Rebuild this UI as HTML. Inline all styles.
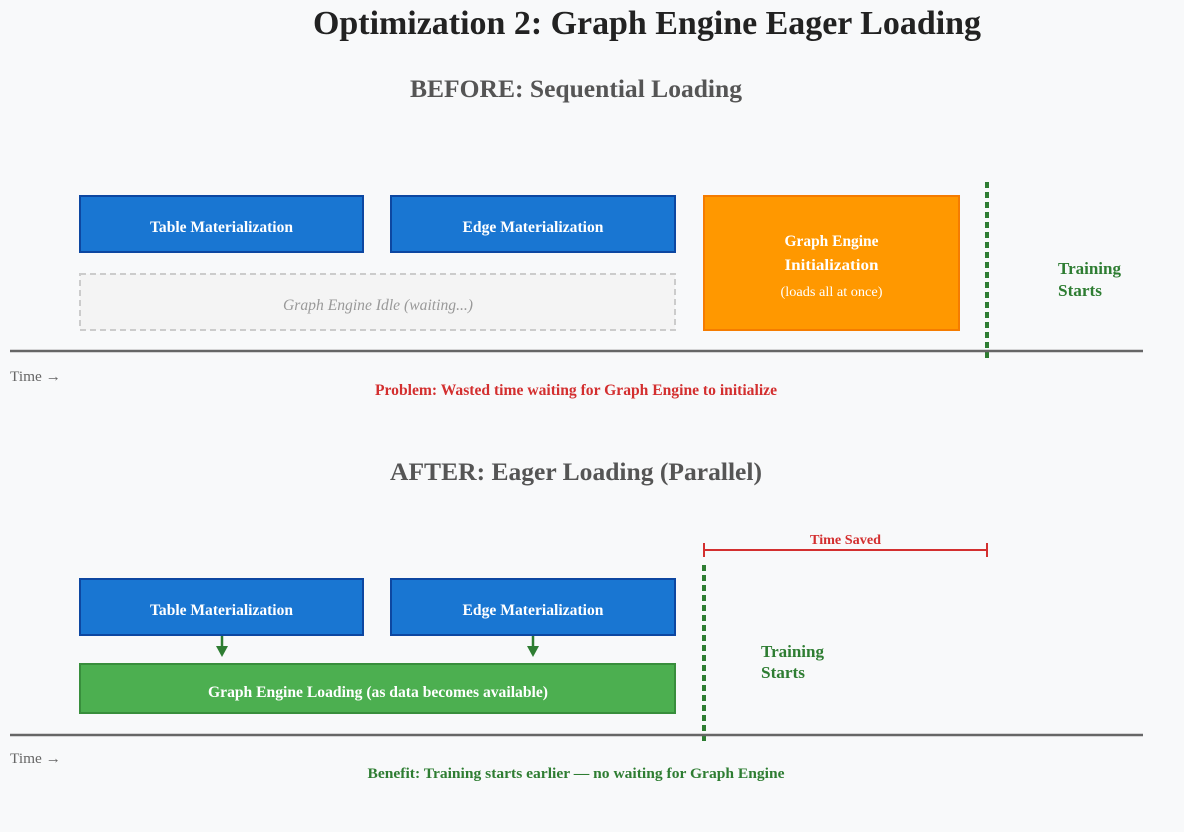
<!DOCTYPE html>
<html><head><style>
html,body{margin:0;padding:0;background:#f8f9fa;}
svg{display:block;font-family:"Liberation Serif",serif;}
</style></head><body>
<svg width="1184" height="832" viewBox="0 0 1184 832" xmlns="http://www.w3.org/2000/svg">
<rect width="1184" height="832" fill="#f8f9fa"/>
<text x="647" y="34" text-anchor="middle" font-size="34" font-weight="bold" fill="#222" textLength="668" lengthAdjust="spacingAndGlyphs">Optimization 2: Graph Engine Eager Loading</text>
<text x="576" y="97" text-anchor="middle" font-size="25.5" font-weight="bold" fill="#555" textLength="332" lengthAdjust="spacingAndGlyphs">BEFORE: Sequential Loading</text>
<rect x="80" y="196" width="283" height="56" fill="#1976d2" stroke="#0d47a1" stroke-width="2"/>
<text x="221.5" y="232" text-anchor="middle" font-size="15.5" font-weight="bold" fill="#fff" textLength="143" lengthAdjust="spacingAndGlyphs">Table Materialization</text>
<rect x="391" y="196" width="284" height="56" fill="#1976d2" stroke="#0d47a1" stroke-width="2"/>
<text x="533" y="232" text-anchor="middle" font-size="15.5" font-weight="bold" fill="#fff" textLength="141" lengthAdjust="spacingAndGlyphs">Edge Materialization</text>
<rect x="80" y="274" width="595" height="56" fill="#f4f4f4" stroke="#ccc" stroke-width="2" stroke-dasharray="6,4"/>
<text x="378" y="310" text-anchor="middle" font-size="15.5" font-style="italic" fill="#999" textLength="190" lengthAdjust="spacingAndGlyphs">Graph Engine Idle (waiting...)</text>
<rect x="704" y="196" width="255" height="134" fill="#ff9800" stroke="#f57c00" stroke-width="2"/>
<text x="831.5" y="246" text-anchor="middle" font-size="15.5" font-weight="bold" fill="#fff" textLength="94" lengthAdjust="spacingAndGlyphs">Graph Engine</text>
<text x="831.5" y="270" text-anchor="middle" font-size="15.5" font-weight="bold" fill="#fff" textLength="94" lengthAdjust="spacingAndGlyphs">Initialization</text>
<text x="831.5" y="296" text-anchor="middle" font-size="14" fill="#fff" textLength="102" lengthAdjust="spacingAndGlyphs">(loads all at once)</text>
<line x1="987" y1="182" x2="987" y2="359" stroke="#2e7d32" stroke-width="4" stroke-dasharray="6,4"/>
<text x="1058" y="274" font-size="17" font-weight="bold" fill="#2e7d32" textLength="63" lengthAdjust="spacingAndGlyphs">Training</text>
<text x="1058" y="296" font-size="17" font-weight="bold" fill="#2e7d32" textLength="44" lengthAdjust="spacingAndGlyphs">Starts</text>
<line x1="10" y1="351" x2="1143" y2="351" stroke="#666" stroke-width="2.5"/>
<text x="10" y="381" font-size="15" fill="#666" textLength="51" lengthAdjust="spacingAndGlyphs">Time →</text>
<text x="576" y="395" text-anchor="middle" font-size="15.5" font-weight="bold" fill="#d32f2f" textLength="402" lengthAdjust="spacingAndGlyphs">Problem: Wasted time waiting for Graph Engine to initialize</text>

<text x="576" y="480" text-anchor="middle" font-size="25.5" font-weight="bold" fill="#555" textLength="372" lengthAdjust="spacingAndGlyphs">AFTER: Eager Loading (Parallel)</text>
<line x1="704" y1="550" x2="987" y2="550" stroke="#d32f2f" stroke-width="2"/>
<line x1="704" y1="543" x2="704" y2="557" stroke="#d32f2f" stroke-width="2"/>
<line x1="987" y1="543" x2="987" y2="557" stroke="#d32f2f" stroke-width="2"/>
<text x="845.5" y="544" text-anchor="middle" font-size="13.5" font-weight="bold" fill="#d32f2f" textLength="71" lengthAdjust="spacingAndGlyphs">Time Saved</text>
<rect x="80" y="579" width="283" height="56" fill="#1976d2" stroke="#0d47a1" stroke-width="2"/>
<text x="221.5" y="615" text-anchor="middle" font-size="15.5" font-weight="bold" fill="#fff" textLength="143" lengthAdjust="spacingAndGlyphs">Table Materialization</text>
<rect x="391" y="579" width="284" height="56" fill="#1976d2" stroke="#0d47a1" stroke-width="2"/>
<text x="533" y="615" text-anchor="middle" font-size="15.5" font-weight="bold" fill="#fff" textLength="141" lengthAdjust="spacingAndGlyphs">Edge Materialization</text>
<line x1="222" y1="636" x2="222" y2="648" stroke="#2e7d32" stroke-width="2.5"/>
<polygon points="216,646 228,646 222,657" fill="#2e7d32"/>
<line x1="533" y1="636" x2="533" y2="648" stroke="#2e7d32" stroke-width="2.5"/>
<polygon points="527,646 539,646 533,657" fill="#2e7d32"/>
<rect x="80" y="664" width="595" height="49" fill="#4caf50" stroke="#388e3c" stroke-width="2"/>
<text x="378" y="697" text-anchor="middle" font-size="15.5" font-weight="bold" fill="#fff" textLength="340" lengthAdjust="spacingAndGlyphs">Graph Engine Loading (as data becomes available)</text>
<line x1="704" y1="565" x2="704" y2="742" stroke="#2e7d32" stroke-width="4" stroke-dasharray="6,4"/>
<text x="761" y="657" font-size="17" font-weight="bold" fill="#2e7d32" textLength="63" lengthAdjust="spacingAndGlyphs">Training</text>
<text x="761" y="678" font-size="17" font-weight="bold" fill="#2e7d32" textLength="44" lengthAdjust="spacingAndGlyphs">Starts</text>
<line x1="10" y1="735" x2="1143" y2="735" stroke="#666" stroke-width="2.5"/>
<text x="10" y="763" font-size="15" fill="#666" textLength="51" lengthAdjust="spacingAndGlyphs">Time →</text>
<text x="576" y="778" text-anchor="middle" font-size="15" font-weight="bold" fill="#2e7d32" textLength="417" lengthAdjust="spacingAndGlyphs">Benefit: Training starts earlier — no waiting for Graph Engine</text>
</svg>
</body></html>
